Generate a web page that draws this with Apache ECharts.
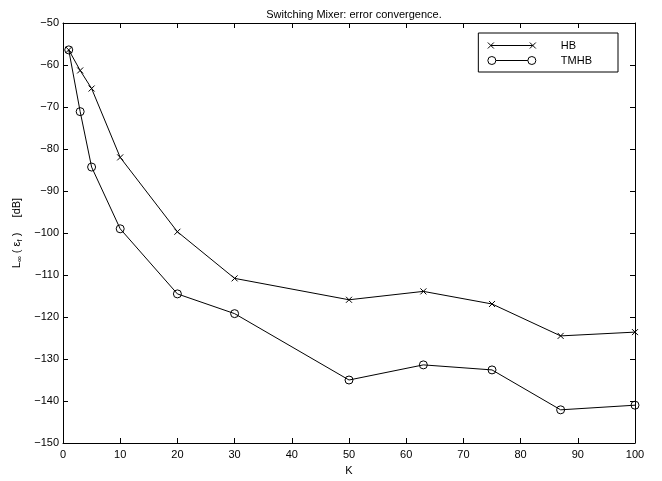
<!DOCTYPE html>
<html>
<head>
<meta charset="utf-8">
<script src="https://cdn.jsdelivr.net/npm/echarts@6/dist/echarts.min.js"></script>
<style>
  html, body { margin: 0; padding: 0; background: #fff; }
  #chart { width: 662px; height: 481px; }
</style>
</head>
<body>
<div id="chart"></div>
<script>
// K values and error levels (dB)
const kValues = [1, 3, 5, 10, 20, 30, 50, 63, 75, 87, 100];
const hbValues = [-56.4, -61.3, -65.6, -82, -99.7, -110.8, -115.9, -113.9, -116.9, -124.5, -123.6];
const tmhbValues = [-56.4, -71.1, -84.3, -99, -114.5, -119.2, -135, -131.4, -132.6, -142.1, -141.0];
const xTicks = [0, 10, 20, 30, 40, 50, 60, 70, 80, 90, 100];
const yTicks = [-150, -140, -130, -120, -110, -100, -90, -80, -70, -60, -50];

const font = 'Liberation Sans, Arial, Helvetica, sans-serif';
const pairs = (vals) => kValues.map((k, i) => [k, vals[i]]);

// legend icons: line with a marker at each end, like the matlab legend
const hbIcon = 'path://M0,2L6,8M6,2L0,8M3,5L45,5M42,2L48,8M48,2L42,8';
const tmhbIcon = 'path://M0,5a4,4 0 1,0 8,0a4,4 0 1,0 -8,0M8,5L40,5M40,5a4,4 0 1,0 8,0a4,4 0 1,0 -8,0';

const baseAxis = {
  axisLine: { show: true, onZero: false, lineStyle: { color: '#000', width: 1 } },
  axisTick: { show: true, inside: true, length: 5, lineStyle: { color: '#000' } },
  splitLine: { show: false }
};

let option = {
  animation: false,
  backgroundColor: '#fff',
  title: {
    text: 'Switching Mixer: error convergence.',
    left: 349, textAlign: 'center',
    top: 4,
    textStyle: { fontFamily: font, fontSize: 11, fontWeight: 'normal', color: '#000' }
  },
  legend: {
    right: 44, top: 33,
    orient: 'vertical',
    borderColor: '#000', borderWidth: 1,
    padding: [7, 26, 6, 9],
    itemWidth: 48, itemHeight: 10, itemGap: 4,
    itemStyle: { color: 'transparent', borderColor: '#000', borderWidth: 1 },
    textStyle: { fontFamily: font, fontSize: 11, color: '#000', padding: [0, 0, 0, 20] },
    data: [{ name: 'HB', icon: hbIcon }, { name: 'TMHB', icon: tmhbIcon }]
  },
  grid: { left: 63, right: 27, top: 23, bottom: 35 },
  xAxis: [
    Object.assign({}, baseAxis, {
      type: 'value', min: 0, max: 100, interval: 10,
      name: 'K', nameLocation: 'middle', nameGap: 22,
      nameTextStyle: { fontFamily: font, fontSize: 11, color: '#000' },
      axisLabel: { fontFamily: font, fontSize: 11, color: '#000', margin: 6,
        formatter: (v) => xTicks.includes(v) ? String(v) : '' }
    }),
    Object.assign({}, baseAxis, {
      type: 'value', min: 0, max: 100, interval: 10, position: 'top',
      axisLabel: { show: false }
    })
  ],
  yAxis: [
    Object.assign({}, baseAxis, {
      type: 'value', min: -150, max: -50, interval: 10,
      name: '{a|L}{s|\u221e}{a| ( \u03b5}{s|f}{a| )     [dB]}',
      nameLocation: 'middle', nameGap: 37,
      nameTextStyle: {
        fontFamily: font, fontSize: 11, color: '#000',
        rich: {
          a: { fontFamily: font, fontSize: 11, color: '#000', verticalAlign: 'top', lineHeight: 12 },
          s: { fontFamily: font, fontSize: 8, color: '#000', verticalAlign: 'bottom', lineHeight: 9, padding: [6, 0, 0, 0] }
        }
      },
      axisLabel: { fontFamily: font, fontSize: 11, color: '#000', margin: 4,
        formatter: (v) => yTicks.includes(v) ? String(v).replace('-', '\u2212') : '' }
    }),
    Object.assign({}, baseAxis, {
      type: 'value', min: -150, max: -50, interval: 10, position: 'right',
      axisLabel: { show: false }
    })
  ],
  series: [
    {
      name: 'HB',
      type: 'line',
      data: pairs(hbValues),
      symbol: 'path://M0,0L10,10M10,0L0,10',
      symbolSize: 6,
      lineStyle: { color: '#000', width: 1 },
      itemStyle: { color: 'transparent', borderColor: '#000', borderWidth: 1 },
      emphasis: { disabled: true }
    },
    {
      name: 'TMHB',
      type: 'line',
      data: pairs(tmhbValues),
      symbol: 'circle',
      symbolSize: 8,
      lineStyle: { color: '#000', width: 1 },
      itemStyle: { color: 'transparent', borderColor: '#000', borderWidth: 1 },
      emphasis: { disabled: true }
    }
  ]
};

let chart = echarts.init(document.getElementById('chart'));
chart.setOption(option, true);
</script>
</body>
</html>
